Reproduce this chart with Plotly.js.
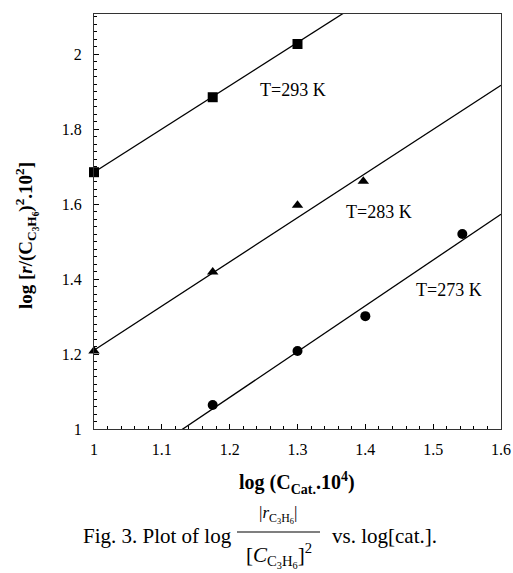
<!DOCTYPE html>
<html>
<head>
<meta charset="utf-8">
<script src="https://cdn.plot.ly/plotly-3.0.1.min.js"></script>
<style>html,body{margin:0;padding:0;background:#fff;}</style>
</head>
<body>
<div id="chart" style="width:513px;height:573px;"></div>
<script>
// Data
var x293 = [1.0, 1.175, 1.3];
var y293 = [1.685, 1.885, 2.027];
var x283 = [1.0, 1.175, 1.3, 1.397];
var y283 = [1.208, 1.419, 1.597, 1.661];
var x273 = [1.175, 1.3, 1.4, 1.543];
var y273 = [1.064, 1.208, 1.301, 1.52];
// Fitted lines (end points)
var fitX293 = [1.0, 1.6];
var fitY293 = [1.685, 2.377];
var fitX283 = [1.0, 1.6];
var fitY283 = [1.21, 1.917];
var fitX273 = [1.0, 1.6];
var fitY273 = [0.84, 1.573];
var labels = ['T=293 K', 'T=283 K', 'T=273 K'];
var labelX = [1.294, 1.42, 1.524];
var labelY = [1.904, 1.579, 1.371];

var L = 94, R = 501, T = 14, B = 429, W = 513, H = 573;
function px(p){ return (p - L) / (R - L); }
function py(p){ return (B - p) / (B - T); }
var serif = 'Liberation Serif, Times New Roman, serif';

function line(x, y){ return {x:x, y:y, mode:'lines', type:'scatter', line:{color:'#000', width:1.3}, hoverinfo:'skip', showlegend:false}; }
function pts(x, y, sym, size){ return {x:x, y:y, mode:'markers', type:'scatter', cliponaxis:false, marker:{symbol:sym, size:size, color:'#000'}, showlegend:false}; }

var data = [
  line(fitX293, fitY293), line(fitX283, fitY283), line(fitX273, fitY273),
  pts(x293, y293, 'square', 10), pts(x283, y283, 'triangle-up', 10), pts(x273, y273, 'circle', 10)
];

function ann(xp, yp, text, size, opts){
  var a = {xref:'paper', yref:'paper', x:px(xp), y:py(yp), xanchor:'center', yanchor:'middle',
    text:text, showarrow:false, font:{family:serif, size:size, color:'#000'}};
  for (var k in (opts||{})) a[k] = opts[k];
  return a;
}

var annotations = [];
for (var i = 0; i < labels.length; i++) {
  annotations.push({x:labelX[i], y:labelY[i], xref:'x', yref:'y', xanchor:'center', yanchor:'middle',
    text:labels[i], showarrow:false, font:{family:serif, size:18, color:'#000'}});
}
annotations.push(ann(26, 236, '<b>log [<i>r</i>/(C<sub>C<sub>3</sub>H<sub>6</sub></sub>)<sup>2</sup>.10<sup>2</sup>]</b>', 19, {textangle:-90}));
annotations.push(ann(297, 483, '<b>log (C<sub>Cat.</sub>.10<sup>4</sup>)</b>', 20));
annotations.push(ann(234, 536, 'Fig. 3. Plot of log', 21, {xanchor:'right'}));
annotations.push(ann(278, 514, '|<i>r</i><sub>C<sub>3</sub>H<sub>6</sub></sub>|', 17));
annotations.push(ann(279, 555, '[<i>C</i><sub>C<sub>3</sub>H<sub>6</sub></sub>]<sup>2</sup>', 21));
annotations.push(ann(330, 536, 'vs. log[cat.].', 21, {xanchor:'left'}));

var layout = {
  width:W, height:H,
  margin:{l:L, r:W-R, t:T, b:H-B, pad:0},
  paper_bgcolor:'#fff', plot_bgcolor:'#fff',
  font:{family:serif, color:'#000'},
  xaxis:{range:[1, 1.6], tick0:1, dtick:0.1,
    ticks:'inside', ticklen:5, tickwidth:1, tickcolor:'#000', showgrid:false, zeroline:false,
    showline:true, linecolor:'#333', linewidth:1, mirror:true,
    tickfont:{family:serif, size:16, color:'#000'}, ticklabelstandoff:6,
    minor:{tick0:1, dtick:0.02, ticks:'inside', ticklen:3, tickwidth:1, tickcolor:'#000', showgrid:false}},
  yaxis:{range:[1, 2.107], tick0:1, dtick:0.2,
    ticks:'inside', ticklen:5, tickwidth:1, tickcolor:'#000', showgrid:false, zeroline:false,
    showline:true, linecolor:'#333', linewidth:1, mirror:true,
    tickfont:{family:serif, size:16, color:'#000'}, ticklabelstandoff:8,
    minor:{tick0:1, dtick:0.02, ticks:'inside', ticklen:3, tickwidth:1, tickcolor:'#000', showgrid:false}},
  annotations:annotations,
  shapes:[{type:'line', xref:'paper', yref:'paper', layer:'above', x0:px(237), x1:px(320), y0:py(532), y1:py(532), line:{color:'#000', width:1.2}}]
};

Plotly.newPlot('chart', data, layout, {displayModeBar:false, staticPlot:true});
</script>
</body>
</html>
